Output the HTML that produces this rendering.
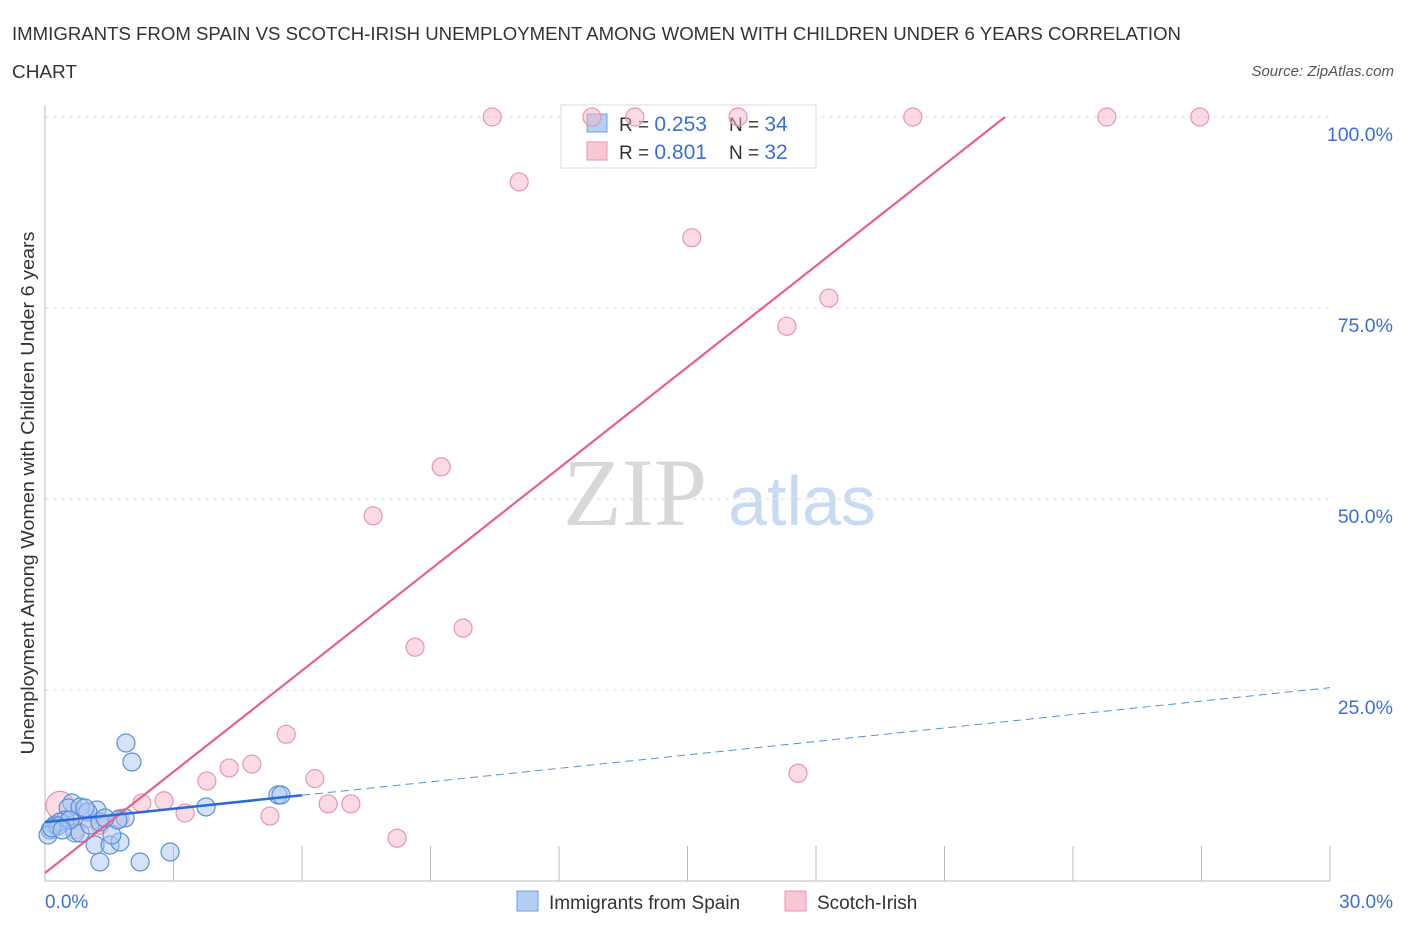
<!DOCTYPE html>
<html><head><meta charset="utf-8">
<style>
body{margin:0;background:#fff;font-family:"Liberation Sans",sans-serif;}
#wrap{position:relative;width:1406px;height:930px;overflow:hidden;}
</style></head><body>
<div id="wrap">
<svg id="svg" width="1406" height="930" xmlns="http://www.w3.org/2000/svg">
<text x="12" y="40" font-size="18" fill="#333" textLength="1169" lengthAdjust="spacingAndGlyphs">IMMIGRANTS FROM SPAIN VS SCOTCH-IRISH UNEMPLOYMENT AMONG WOMEN WITH CHILDREN UNDER 6 YEARS CORRELATION</text>
<text x="12" y="78" font-size="18" fill="#333" textLength="65" lengthAdjust="spacingAndGlyphs">CHART</text>
<text x="1394" y="76" font-size="15" fill="#555" font-style="italic" text-anchor="end">Source: ZipAtlas.com</text>
<text x="635" y="525" font-size="96" fill="#d8d8d8" font-family="Liberation Serif,serif" text-anchor="middle">ZIP</text>
<text x="802" y="525" font-size="70" fill="#c9dbf3" text-anchor="middle">atlas</text>
<g id="grid"></g>
<g>
<rect x="561" y="105" width="255" height="63" fill="#fff" stroke="#ddd"/>
<rect x="587" y="114" width="20" height="18" fill="#b4cff3" stroke="#6a9fe0"/>
<text x="619" y="131" font-size="19" fill="#333">R = <tspan fill="#3a6fd8" font-size="21">0.253</tspan></text>
<text x="729" y="131" font-size="19" fill="#333">N = <tspan fill="#3a6fd8" font-size="21">34</tspan></text>
<rect x="587" y="142" width="20" height="18" fill="#f9c6d4" stroke="#e896ad"/>
<text x="619" y="159" font-size="19" fill="#333">R = <tspan fill="#3a6fd8" font-size="21">0.801</tspan></text>
<text x="729" y="159" font-size="19" fill="#333">N = <tspan fill="#3a6fd8" font-size="21">32</tspan></text>
</g>
<g id="marks"></g>
<text transform="translate(34,493) rotate(-90)" font-size="18" fill="#333" text-anchor="middle" textLength="523" lengthAdjust="spacingAndGlyphs">Unemployment Among Women with Children Under 6 years</text>
<text x="45" y="908" font-size="19" fill="#3a6fd8">0.0%</text>
<text x="1393" y="908" font-size="19" fill="#3a6fd8" text-anchor="end">30.0%</text>
<g>
<rect x="517" y="891" width="21" height="20" fill="#b4cff3" stroke="#6a9fe0"/>
<text x="549" y="909" font-size="19" fill="#333">Immigrants from Spain</text>
<rect x="785" y="891" width="21" height="20" fill="#f9c6d4" stroke="#e896ad"/>
<text x="817" y="909" font-size="19" fill="#333">Scotch-Irish</text>
</g>
</svg>
</div>
<script>
const yTicks=[25,50,75,100];
const yTickLabels=["25.0%","50.0%","75.0%","100.0%"];
const xTicks=[3,6,9,12,15,18,21,24,27,30];
const blueX=[1.89,2.03,3.76,5.44,5.51,2.92,2.22,1.28,1.17,1.52,1.75,1.56,1.87,1.70,1.21,0.63,0.54,0.82,1.00,0.93,0.47,0.23,0.12,0.07,0.35,0.70,0.82,1.05,1.28,1.40,0.30,0.58,0.16,0.40];
const blueY=[18.06,15.58,9.69,11.26,11.26,3.80,2.49,2.49,4.71,4.71,5.11,6.02,8.25,7.98,9.29,10.21,9.56,9.69,9.03,9.56,7.98,7.33,6.68,6.02,7.72,6.28,6.28,7.33,7.72,8.25,7.20,7.98,6.94,6.68];
const pinkX=[10.44,12.77,13.77,16.18,20.26,24.79,26.96,11.07,15.10,18.30,17.32,9.25,7.66,9.76,8.64,5.63,4.83,4.30,3.78,6.30,2.78,2.26,3.27,5.25,6.61,7.14,8.22,17.58,1.75,1.28,0.35,1.00,0.70];
const pinkY=[100,100,100,100,100,100,100,91.5,84.2,76.3,72.6,54.2,47.8,33.1,30.6,19.2,15.3,14.8,13.1,13.4,10.5,10.2,8.9,8.5,10.1,10.1,5.6,14.1,8.2,7.3,9.9,8.2,6.7];
const blueLine=[7.7,0.587];
const pinkLine=[1.05,4.415];
const X=v=>45+v/30*1285;
const Y=v=>881-v/100*764;
const NS="http://www.w3.org/2000/svg";
function mk(t,a,p){const e=document.createElementNS(NS,t);for(const k in a)e.setAttribute(k,a[k]);p.appendChild(e);return e;}
const grid=document.getElementById('grid'),marks=document.getElementById('marks');
yTicks.forEach((t,i)=>{
 const l=mk('line',{x1:45,x2:1330,y1:Y(t),y2:Y(t),stroke:'#ddd','stroke-dasharray':'4,4'},grid);
 
 
 const tx=mk('text',{x:1393,y:Y(t)+24,'font-size':19.5,fill:'#3a6fd8','text-anchor':'end'},grid);
 tx.textContent=yTickLabels[i];
 
 
});
const ax=mk('line',{x1:45,x2:45,y1:105,y2:881,stroke:'#bbb'},grid);


const bx=mk('line',{x1:45,x2:1330,y1:881,y2:881,stroke:'#bbb'},grid);


xTicks.forEach(t=>{
 const l=mk('line',{x1:X(t),x2:X(t),y1:846,y2:881,stroke:'#bbb'},grid);
 
 
});
pinkX.forEach((x,i)=>{
 const c=mk('circle',{cx:X(x),cy:Y(pinkY[i]),r:i==30?14:9,fill:'#f7b8c8','fill-opacity':0.5,stroke:'#e896ad','stroke-width':1.2},marks);
 
 
});
blueX.forEach((x,i)=>{
 const c=mk('circle',{cx:X(x),cy:Y(blueY[i]),r:9,fill:'#a9c8f0','fill-opacity':0.5,stroke:'#5a8fdc','stroke-width':1.2},marks);
 
 
});
const pEnd=(100-pinkLine[0])/pinkLine[1];
const pl=mk('line',{x1:X(0),y1:Y(pinkLine[0]),x2:X(pEnd),y2:Y(100),stroke:'#e8608a','stroke-width':2.2},marks);


const bd=mk('line',{x1:X(6),y1:Y(blueLine[0]+6*blueLine[1]),x2:X(30),y2:Y(blueLine[0]+30*blueLine[1]),stroke:'#5a8fdc','stroke-width':1,'stroke-dasharray':'8,5'},marks);


const bl=mk('line',{x1:X(0),y1:Y(blueLine[0]),x2:X(6),y2:Y(blueLine[0]+6*blueLine[1]),stroke:'#2a6ad8','stroke-width':2.5},marks);


</script>
</body></html>
